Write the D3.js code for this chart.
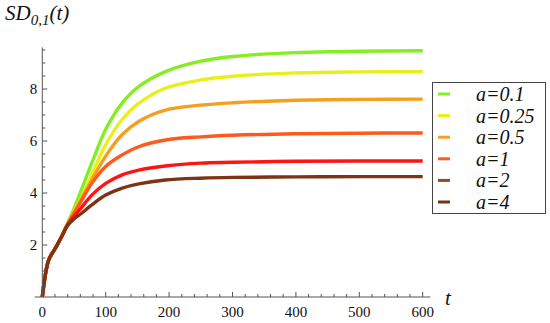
<!DOCTYPE html>
<html>
<head>
<meta charset="utf-8">
<script src="https://cdn.jsdelivr.net/npm/d3@7"></script>
<style>
  html, body { margin: 0; padding: 0; background: #fff; }
  svg { display: block; }
  .serif { font-family: "Liberation Serif", "Times New Roman", Times, "DejaVu Serif", serif; }
</style>
</head>
<body>
<svg id="chart" width="550" height="323"></svg>
<script>
// ---- data ----
const times = [0, 10, 20, 30, 40, 50, 62, 78, 100, 125, 152, 194, 250, 300, 400, 500, 600];
const seriesNames = ["a=0.1", "a=0.25", "a=0.5", "a=1", "a=2", "a=4"];
const sA01  = [0, 1.42, 1.85, 2.3, 2.85, 3.4, 4.15, 5.15, 6.45, 7.43, 8.09, 8.67, 9.07, 9.25, 9.4, 9.45, 9.47];
const sA025 = [0, 1.42, 1.85, 2.3, 2.82, 3.3, 3.83, 4.7, 5.86, 6.8, 7.45, 8.03, 8.35, 8.49, 8.62, 8.66, 8.67];
const sA05  = [0, 1.42, 1.85, 2.3, 2.8, 3.25, 3.78, 4.5, 5.42, 6.22, 6.75, 7.19, 7.38, 7.47, 7.57, 7.6, 7.61];
const sA1   = [0, 1.42, 1.85, 2.3, 2.8, 3.22, 3.72, 4.37, 5.02, 5.45, 5.78, 6.04, 6.16, 6.22, 6.28, 6.3, 6.31];
const sA2   = [0, 1.42, 1.85, 2.3, 2.78, 3.1, 3.45, 3.92, 4.37, 4.69, 4.88, 5.04, 5.15, 5.18, 5.22, 5.23, 5.23];
const sA4   = [0, 1.42, 1.85, 2.3, 2.75, 3.0, 3.22, 3.54, 3.92, 4.18, 4.35, 4.5, 4.57, 4.6, 4.62, 4.63, 4.63];
const seriesValues = [sA01, sA025, sA05, sA1, sA2, sA4];
const lineColors   = ["#84ee22", "#e8f01c", "#f59f1e", "#ff5a1e", "#ff1414", "#7c3412"];
const legendColors = ["#84ee22", "#ecee10", "#f5a022", "#ff5a22", "#8a4e22", "#6e3814"];
const xTicks = [0, 100, 200, 300, 400, 500, 600];
const yTicks = [2, 4, 6, 8];

// ---- layout ----
const svg = d3.select("#chart");
const x = d3.scaleLinear().domain([0, 600]).range([42.3, 422.7]);
const y = d3.scaleLinear().domain([0, 8]).range([297, 89]);
const axisColor = "#555";

// plot lines
const line = d3.line().x(d => x(d[0])).y(d => y(d[1])).curve(d3.curveCatmullRom.alpha(0.5));
seriesValues.forEach((vals, i) => {
  svg.append("path")
    .datum(times.map((t, j) => [t, vals[j]]))
    .attr("d", line)
    .attr("fill", "none")
    .attr("stroke", lineColors[i])
    .attr("stroke-width", 3.4)
    .attr("stroke-linejoin", "round")
    .attr("stroke-linecap", "butt");
});

// x axis
const xAxisG = svg.append("g").attr("transform", `translate(0,${y(0)})`);
xAxisG.append("line").attr("x1", x(-12)).attr("x2", x(612)).attr("y1", 0).attr("y2", 0)
  .attr("stroke", axisColor).attr("stroke-width", 1);
d3.range(0, 601, 20).forEach(v => {
  const major = v % 100 === 0;
  xAxisG.append("line").attr("x1", x(v)).attr("x2", x(v)).attr("y1", 0).attr("y2", major ? -5 : -3)
    .attr("stroke", axisColor).attr("stroke-width", 1);
});
xAxisG.selectAll("text.xt").data(xTicks).enter().append("text")
  .attr("class", "serif")
  .attr("x", d => x(d)).attr("y", 20).attr("text-anchor", "middle")
  .attr("font-size", 15).attr("fill", "#111")
  .text(d => d);

// y axis
const yAxisG = svg.append("g").attr("transform", `translate(${x(0)},0)`);
yAxisG.append("line").attr("x1", 0).attr("x2", 0).attr("y1", y(0)).attr("y2", y(9.6))
  .attr("stroke", axisColor).attr("stroke-width", 1);
d3.range(0.5, 9.6, 0.5).forEach(v => {
  const major = Math.abs(v % 2) < 1e-9;
  yAxisG.append("line").attr("x1", 0).attr("x2", major ? 5 : 3).attr("y1", y(v)).attr("y2", y(v))
    .attr("stroke", axisColor).attr("stroke-width", 1);
});
yAxisG.selectAll("text.yt").data(yTicks).enter().append("text")
  .attr("class", "serif")
  .attr("x", -5).attr("y", d => y(d) + 5).attr("text-anchor", "end")
  .attr("font-size", 15).attr("fill", "#111")
  .text(d => d);

// axis titles
const yTitle = svg.append("text").attr("class", "serif").attr("x", 5).attr("y", 19.5)
  .attr("font-style", "italic").attr("font-size", 21).attr("fill", "#111");
yTitle.append("tspan").text("SD");
yTitle.append("tspan").attr("font-size", 15).attr("dy", 5).text("0,1");
yTitle.append("tspan").attr("dy", -5).text("(t)");

svg.append("text").attr("class", "serif").attr("x", 445).attr("y", 305)
  .attr("font-style", "italic").attr("font-size", 21).attr("fill", "#111")
  .text("t");

// legend
const lg = svg.append("g");
lg.append("rect").attr("x", 432.5).attr("y", 82.5).attr("width", 113).attr("height", 131)
  .attr("fill", "#fff").attr("stroke", "#444").attr("stroke-width", 1);
seriesNames.forEach((name, i) => {
  const cy = 94 + i * 21.6;
  lg.append("line").attr("x1", 438).attr("x2", 450).attr("y1", cy).attr("y2", cy)
    .attr("stroke", legendColors[i]).attr("stroke-width", 3);
  lg.append("text").attr("class", "serif").attr("x", 476).attr("y", cy + 7)
    .attr("font-style", "italic").attr("font-size", 20).attr("fill", "#111")
    .text(name);
});
</script>
</body>
</html>
